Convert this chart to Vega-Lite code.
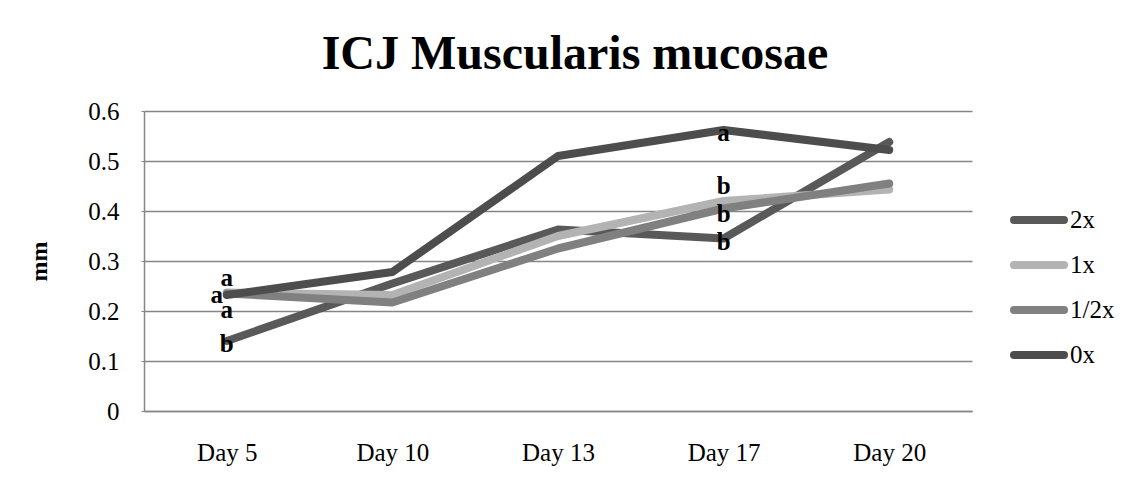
{
  "$schema": "https://vega.github.io/schema/vega-lite/v6.json",
  "autosize": {"type": "none"},
  "width": 828,
  "height": 300,
  "padding": {"left": 144, "top": 111, "right": 173, "bottom": 84},
  "background": "white",
  "title": {
    "text": "ICJ Muscularis mucosae",
    "font": "Liberation Serif",
    "fontSize": 48,
    "fontWeight": "bold",
    "color": "black",
    "anchor": "middle",
    "frame": "group",
    "dx": 17,
    "offset": 20
  },
  "datasets": {
    "series": [
      {"day": "Day 5", "group": "2x", "mm": 0.14},
      {"day": "Day 10", "group": "2x", "mm": 0.255},
      {"day": "Day 13", "group": "2x", "mm": 0.363},
      {"day": "Day 17", "group": "2x", "mm": 0.345},
      {"day": "Day 20", "group": "2x", "mm": 0.538},
      {"day": "Day 5", "group": "1x", "mm": 0.237},
      {"day": "Day 10", "group": "1x", "mm": 0.232},
      {"day": "Day 13", "group": "1x", "mm": 0.35},
      {"day": "Day 17", "group": "1x", "mm": 0.42},
      {"day": "Day 20", "group": "1x", "mm": 0.443},
      {"day": "Day 5", "group": "1/2x", "mm": 0.235},
      {"day": "Day 10", "group": "1/2x", "mm": 0.217},
      {"day": "Day 13", "group": "1/2x", "mm": 0.325},
      {"day": "Day 17", "group": "1/2x", "mm": 0.405},
      {"day": "Day 20", "group": "1/2x", "mm": 0.455},
      {"day": "Day 5", "group": "0x", "mm": 0.232},
      {"day": "Day 10", "group": "0x", "mm": 0.278},
      {"day": "Day 13", "group": "0x", "mm": 0.51},
      {"day": "Day 17", "group": "0x", "mm": 0.562},
      {"day": "Day 20", "group": "0x", "mm": 0.522}
    ],
    "labels": [
      {"day": "Day 5", "pos": 0.25, "letter": "a", "shifted": false},
      {"day": "Day 5", "pos": 0.216, "letter": "a", "shifted": true},
      {"day": "Day 5", "pos": 0.186, "letter": "a", "shifted": false},
      {"day": "Day 5", "pos": 0.119, "letter": "b", "shifted": false},
      {"day": "Day 17", "pos": 0.541, "letter": "a", "shifted": false},
      {"day": "Day 17", "pos": 0.434, "letter": "b", "shifted": false},
      {"day": "Day 17", "pos": 0.379, "letter": "b", "shifted": false},
      {"day": "Day 17", "pos": 0.323, "letter": "b", "shifted": false}
    ]
  },
  "layer": [
    {
      "data": {"name": "series"},
      "mark": {"type": "line", "strokeWidth": 8, "strokeCap": "round", "strokeJoin": "round"},
      "encoding": {
        "x": {
          "field": "day", "type": "ordinal",
          "sort": ["Day 5", "Day 10", "Day 13", "Day 17", "Day 20"],
          "scale": {"type": "point", "padding": 0.5},
          "axis": {
            "title": null, "labelAngle": 0, "ticks": false, "grid": false,
            "labelFont": "Liberation Serif", "labelFontSize": 25, "labelColor": "black",
            "labelPadding": 29, "domainColor": "#868686", "domainWidth": 1.5
          }
        },
        "y": {
          "field": "mm", "type": "quantitative",
          "scale": {"domain": [0, 0.6], "nice": false},
          "axis": {
            "title": "mm", "values": [0, 0.1, 0.2, 0.3, 0.4, 0.5, 0.6],
            "format": "~g",
            "titleFont": "Liberation Serif", "titleFontSize": 24, "titleFontWeight": "bold", "titleColor": "black",
            "titlePadding": 36,
            "labelFont": "Liberation Serif", "labelFontSize": 25, "labelColor": "black",
            "labelPadding": 22, "tickSize": 3, "tickColor": "#868686",
            "domainColor": "#868686", "domainWidth": 1.5,
            "gridColor": "#868686", "gridWidth": 1.5
          }
        },
        "color": {
          "field": "group", "type": "nominal",
          "scale": {"domain": ["2x", "1x", "1/2x", "0x"], "range": ["#595959", "#b3b3b3", "#808080", "#4d4d4d"]},
          "legend": {
            "title": null, "orient": "none", "legendX": 871, "legendY": 85,
            "symbolType": "M-1.25,0H1.25", "symbolSize": 1600, "symbolStrokeWidth": 8,
            "labelFont": "Liberation Serif", "labelFontSize": 25, "labelColor": "black",
            "labelOffset": 7, "rowPadding": 5,
            "encode": {"symbols": {"update": {"strokeCap": {"value": "round"}}}}
          }
        }
      }
    },
    {
      "data": {"name": "labels"},
      "transform": [{"filter": "!datum.shifted"}],
      "mark": {"type": "text", "font": "Liberation Serif", "fontSize": 25, "fontWeight": "bold", "baseline": "alphabetic", "color": "black"},
      "encoding": {
        "x": {"field": "day", "type": "ordinal", "sort": ["Day 5", "Day 10", "Day 13", "Day 17", "Day 20"]},
        "y": {"field": "pos", "type": "quantitative"},
        "text": {"field": "letter"}
      }
    },
    {
      "data": {"name": "labels"},
      "transform": [{"filter": "datum.shifted"}],
      "mark": {"type": "text", "font": "Liberation Serif", "fontSize": 25, "fontWeight": "bold", "baseline": "alphabetic", "color": "black", "dx": -10},
      "encoding": {
        "x": {"field": "day", "type": "ordinal", "sort": ["Day 5", "Day 10", "Day 13", "Day 17", "Day 20"]},
        "y": {"field": "pos", "type": "quantitative"},
        "text": {"field": "letter"}
      }
    }
  ],
  "config": {"view": {"stroke": null}}
}
